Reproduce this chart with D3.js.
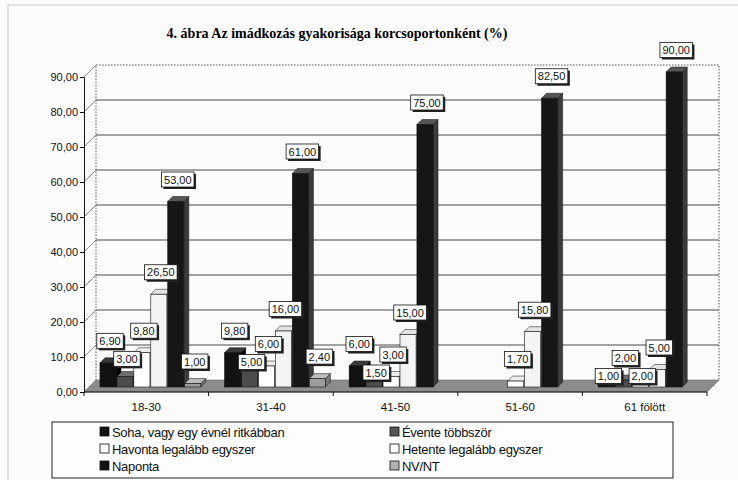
<!DOCTYPE html>
<html>
<head>
<meta charset="utf-8">
<script src="https://cdn.jsdelivr.net/npm/d3@7"></script>
<style>
  body { margin: 0; background: #fcfcfc; }
  svg { display: block; font-family: "Liberation Sans", Arial, sans-serif; }
</style>
</head>
<body>
<div id="chart"></div>
<script>
// age groups
var categories = ["18-30", "31-40", "41-50", "51-60", "61 fölött"];
var seriesNames = ["Soha, vagy egy évnél ritkábban", "Évente többször",
                   "Havonta legalább egyszer", "Hetente legalább egyszer",
                   "Naponta", "NV/NT"];
// values in %, null = no bar
var soha     = [6.90, 9.80, 6.00, null, 1.00];
var evente   = [3.00, 5.00, 1.50, null, 2.00];
var havonta  = [9.80, 6.00, 3.00, 1.70, 2.00];
var hetente  = [26.50, 16.00, 15.00, 15.80, 5.00];
var naponta  = [53.00, 61.00, 75.00, 82.50, 90.00];
var nvnt     = [1.00, 2.40, null, null, null];
var yTicks   = [0, 10, 20, 30, 40, 50, 60, 70, 80, 90];

var values = [soha, evente, havonta, hetente, naponta, nvnt];

// front / side / top shades for each series
var faces = [
  ["#121212", "#000000", "#3a3a3a"],
  ["#4c4c4c", "#2e2e2e", "#6e6e6e"],
  ["#ffffff", "#d8d8d8", "#ececec"],
  ["#f4f4f4", "#cfcfcf", "#e2e2e2"],
  ["#161616", "#3c3c3c", "#555555"],
  ["#9c9c9c", "#777777", "#bcbcbc"]
];
var legendColors = ["#111", "#555", "#fff", "#fff", "#111", "#b0b0b0"];

function init(){
    var w = 738, h = 480;
    var left = 84, right = 707, base = 392, top = 77;
    var dep = 12;          // depth of the floor / walls
    var bOff = 5, bDep = 5; // bar placement in depth

    var fmt = function(d){ return d3.format(".2f")(d).replace(".", ","); };

    var svg = d3.select("#chart").append("svg")
                .attr("width", w).attr("height", h);

    // faint page frame of the scan
    svg.append("rect").attr("x", 8).attr("y", 5).attr("width", 760).attr("height", 500)
        .attr("fill", "none").attr("stroke", "#c8c8c8");

    var x0 = d3.scaleBand().domain(categories).range([left, right]);
    var bw = x0.bandwidth();
    var x1 = d3.scaleBand().domain(d3.range(seriesNames.length))
                .range([bw * 0.088, bw * 0.897]).paddingInner(0.05);
    var y = d3.scaleLinear().domain([0, 90]).range([base, top]);

    // title
    svg.append("text")
        .attr("x", 337).attr("y", 38)
        .attr("text-anchor", "middle")
        .style("font-family", "'Liberation Serif', 'Times New Roman', serif")
        .style("font-weight", "bold").style("font-size", "14px")
        .text("4. ábra Az imádkozás gyakorisága korcsoportonként (%)");

    // back wall grid
    var wall = svg.append("g");
    wall.selectAll("line.grid")
        .data(yTicks.filter(function(d){ return d > 0 && d < 90; }))
        .enter().append("line")
        .attr("x1", left + dep).attr("x2", right + dep)
        .attr("y1", function(d){ return y(d) - dep; })
        .attr("y2", function(d){ return y(d) - dep; })
        .attr("stroke", "#4a4a4a").attr("stroke-width", 1);
    // diagonal ticks on the side wall
    wall.selectAll("line.diag")
        .data(yTicks.filter(function(d){ return d > 0; }))
        .enter().append("line")
        .attr("x1", left).attr("x2", left + dep)
        .attr("y1", function(d){ return y(d); })
        .attr("y2", function(d){ return y(d) - dep; })
        .attr("stroke", "#8a8a8a");
    // dotted outline of the wall
    wall.append("path")
        .attr("d", "M" + (left + dep) + "," + (base - dep) + "V" + (y(90) - dep) +
                   "H" + (right + dep) + "V" + (base - dep))
        .attr("fill", "none").attr("stroke", "#555")
        .attr("stroke-dasharray", "1.5,1.5");

    // floor
    svg.append("path")
        .attr("d", "M" + left + "," + base + "L" + right + "," + base +
                   "L" + (right + dep) + "," + (base - dep) +
                   "L" + (left + dep) + "," + (base - dep) + "Z")
        .attr("fill", "#8c8c8c").attr("stroke", "#6a6a6a").attr("stroke-width", 0.6);

    // y axis
    var yAxis = d3.axisLeft(y).tickValues(yTicks).tickFormat(fmt).tickSize(4).tickPadding(2);
    var ya = svg.append("g").attr("transform", "translate(" + left + ",0)").call(yAxis);
    ya.select(".domain").attr("stroke", "#111");
    ya.selectAll("text").style("font-size", "11px").attr("fill", "#111")
        .style("font-family", "'Liberation Sans', Arial, sans-serif");

    // category axis (front edge)
    svg.append("line").attr("x1", left).attr("x2", right)
        .attr("y1", base).attr("y2", base).attr("stroke", "#111");
    svg.selectAll("line.ctick")
        .data(d3.range(categories.length + 1))
        .enter().append("line")
        .attr("x1", function(i){ return left + i * bw; })
        .attr("x2", function(i){ return left + i * bw; })
        .attr("y1", base).attr("y2", base + 4).attr("stroke", "#111");
    svg.selectAll("text.cat")
        .data(categories)
        .enter().append("text")
        .attr("x", function(d){ return x0(d) + bw / 2; })
        .attr("y", base + 19)
        .attr("text-anchor", "middle")
        .style("font-size", "11.5px").attr("fill", "#111")
        .text(function(d){ return d; });

    // bars
    var bars = [];
    categories.forEach(function(c, ci){
        values.forEach(function(arr, si){
            if (arr[ci] == null) return;
            bars.push({cat: c, ci: ci, si: si, v: arr[ci]});
        });
    });

    var bg = svg.append("g");
    var bw1 = x1.bandwidth();
    bars.forEach(function(b){
        var x = x0(b.cat) + x1(b.si) + bOff;
        var yb = base - bOff, yt = y(b.v) - bOff;
        var f = faces[b.si];
        var g = bg.append("g");
        g.append("path")
            .attr("d", "M" + (x + bw1) + "," + yt + "l" + bDep + "," + (-bDep) +
                       "V" + (yb - bDep) + "l" + (-bDep) + "," + bDep + "Z")
            .attr("fill", f[1]).attr("stroke", "#111").attr("stroke-width", 0.5);
        g.append("path")
            .attr("d", "M" + x + "," + yt + "l" + bDep + "," + (-bDep) +
                       "h" + bw1 + "l" + (-bDep) + "," + bDep + "Z")
            .attr("fill", f[2]).attr("stroke", "#111").attr("stroke-width", 0.5);
        g.append("rect")
            .attr("x", x).attr("y", yt)
            .attr("width", bw1).attr("height", Math.max(0, yb - yt))
            .attr("fill", f[0]).attr("stroke", "#111").attr("stroke-width", 0.6);
        b.cx = x + bw1 / 2 + 2;
        b.top = yt;
    });

    // data labels: boxes above the bars, pushed down when they collide
    var lg = svg.append("g");
    var lh = 15;
    categories.forEach(function(c){
        var these = bars.filter(function(b){ return b.cat === c; })
                        .sort(function(a, b){ return b.v - a.v || a.si - b.si; });
        var placed = [];
        these.forEach(function(b){
            var g = lg.append("g");
            var t = g.append("text")
                .attr("text-anchor", "middle")
                .style("font-size", "11px").attr("fill", "#111")
                .text(fmt(b.v));
            var tw = t.node().getComputedTextLength() + 5;
            var cy = b.top - 22;
            var moved = true;
            while (moved) {
                moved = false;
                placed.forEach(function(p){
                    if (Math.abs(p.cx - b.cx) < (p.w + tw) / 2 &&
                        Math.abs(p.cy - cy) < lh + 2) {
                        cy = p.cy + lh + 3;
                        moved = true;
                    }
                });
            }
            placed.push({cx: b.cx, cy: cy, w: tw});
            g.attr("transform", "translate(" + b.cx + "," + cy + ")");
            g.insert("rect", "text")
                .attr("x", -tw / 2 + 2).attr("y", -lh / 2 + 2)
                .attr("width", tw).attr("height", lh).attr("fill", "#222");
            g.insert("rect", "text")
                .attr("x", -tw / 2).attr("y", -lh / 2)
                .attr("width", tw).attr("height", lh)
                .attr("fill", "#fff").attr("stroke", "#111").attr("stroke-width", 0.8);
            t.attr("y", 4);
        });
    });

    // legend
    var leg = svg.append("g");
    leg.append("rect").attr("x", 52).attr("y", 422).attr("width", 621).attr("height", 56)
        .attr("fill", "#fdfdfd").attr("stroke", "#222");
    var items = leg.selectAll("g.item")
        .data(seriesNames)
        .enter().append("g")
        .attr("transform", function(d, i){
            return "translate(" + (i % 2 === 0 ? 100 : 390) + "," + (432 + Math.floor(i / 2) * 17) + ")";
        });
    items.append("rect")
        .attr("x", 0).attr("y", -5).attr("width", 9).attr("height", 9)
        .attr("fill", function(d, i){ return legendColors[i]; })
        .attr("stroke", "#111").attr("stroke-width", 0.8);
    items.append("text")
        .attr("x", 12).attr("y", 4.5)
        .style("font-size", "13px").attr("fill", "#111")
        .style("letter-spacing", "-0.3px")
        .text(function(d){ return d; });
}

window.onload = init;
</script>
</body>
</html>
